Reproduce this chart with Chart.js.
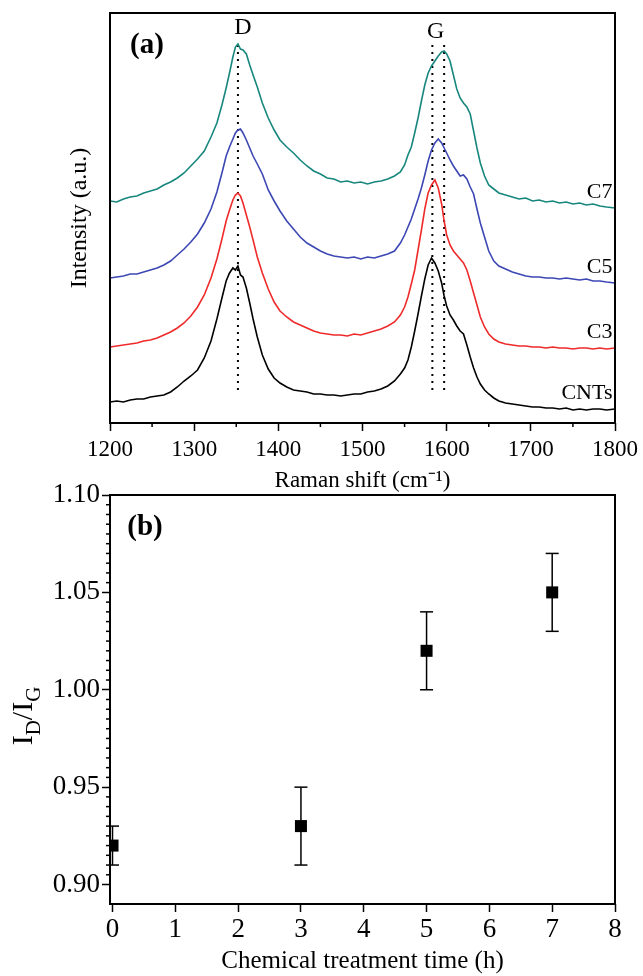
<!DOCTYPE html>
<html>
<head>
<meta charset="utf-8">
<title>Raman spectra and ID/IG</title>
<script src="https://cdn.jsdelivr.net/npm/chart.js@4.4.0/dist/chart.umd.min.js"></script>
<style>
  html, body { margin: 0; padding: 0; background: #fff; }
  #wrap { position: relative; width: 643px; height: 976px; }
  canvas { position: absolute; left: 0; }
  #ramanChart { top: 0; }
  #ratioChart { top: 470px; }
</style>
</head>
<body>
<div id="wrap">
  <canvas id="ramanChart" width="643" height="495"></canvas>
  <canvas id="ratioChart" width="643" height="506"></canvas>
</div>
<script>
// ---------- data: panel (a), Raman spectra (offset, a.u.) ----------
const ramanShift = [1200,1208,1216,1224,1232,1240,1248,1256,1264,1272,1280,1288,1296,1304,1312,1320,1327,1333,1338,1342,1346,1349,1352,1355,1358,1362,1366,1370,1375,1381,1388,1395,1402,1410,1418,1426,1434,1442,1450,1458,1466,1474,1482,1490,1498,1506,1514,1522,1530,1538,1545,1550,1554,1558,1562,1566,1570,1574,1578,1582,1586,1590,1594,1597,1600,1604,1608,1612,1616,1620,1624,1628,1632,1636,1640,1645,1650,1656,1662,1670,1678,1686,1694,1702,1710,1718,1726,1734,1742,1750,1758,1766,1774,1782,1790,1800];

const c7Int = [222,221,224,226,227,230,232,234,238,241,245,250,257,264,272,286,300,318,335,350,366,376,379,374,373,369,358,348,336,320,305,293,283,276,270,263,257,252,249,245,244,241,242,240,241,239,241,242,244,247,251,258,268,276,290,305,322,338,350,357,362,367,371,372,369,362,348,334,325,320,316,309,292,275,260,247,238,234,230,228,226,224,225,222,223,221,222,220,221,219,220,218,219,217,216,215];

const c5Int = [145,146,147,149,149,151,153,155,158,162,168,174,181,189,200,214,231,250,267,276,284,290,293,294,290,283,275,267,259,249,233,222,212,202,194,186,180,176,172,169,167,166,165,166,164,166,165,167,169,172,180,188,196,204,214,224,235,248,262,273,280,284,280,275,270,263,257,252,247,248,244,236,229,214,200,186,172,162,157,154,151,149,147,146,146,145,145,144,145,144,143,144,142,142,141,140];

const c3Int = [76,77,78,79,80,82,83,85,88,91,95,100,107,116,128,145,164,184,202,213,223,228,230,227,220,208,196,183,166,150,134,121,112,106,101,98,95,92,90,89,88,88,87,89,88,90,92,94,97,101,108,116,126,139,153,173,193,214,230,238,243,235,219,202,188,178,172,168,164,160,153,142,130,118,106,96,89,84,81,79,78,77,77,76,76,75,76,75,75,74,75,75,74,75,74,75];

const cntInt = [21,22,21,23,24,24,26,27,28,31,36,42,47,53,65,82,104,125,142,150,155,153,157,148,146,135,120,104,86,68,54,45,40,36,33,32,31,29,29,28,28,27,28,29,29,31,32,34,37,42,49,55,63,76,92,109,127,144,158,165,160,152,140,127,117,108,103,97,92,89,78,66,55,46,39,33,29,25,22,20,19,18,17,16,16,15,15,14,15,13,14,13,14,14,13,14];

const sampleNames = ['C7', 'C5', 'C3', 'CNTs'];
const dPeak = [1352];
const gPeaks = [1583, 1597];

// ---------- data: panel (b), ID/IG vs treatment time ----------
const treatTime = [0, 3, 5, 7];
const ratioIDIG = [0.92, 0.93, 1.02, 1.05];
const ratioErr = [0.01, 0.02, 0.02, 0.02];
const ratioTicks = [0.90, 0.95, 1.00, 1.05, 1.10];
const timeTicks = [0, 1, 2, 3, 4, 5, 6, 7, 8];

// ---------- styling ----------
const SERIF = "'Liberation Serif', 'Times New Roman', serif";
Chart.defaults.font.family = SERIF;
Chart.defaults.color = '#000';
const lineColors = { C7: '#17877e', C5: '#3c47b3', C3: '#ef2a2a', CNTs: '#000000' };
const seriesValues = [c7Int, c5Int, c3Int, cntInt];

function frame(ctx, a) {
    ctx.save();
    ctx.strokeStyle = '#000';
    ctx.lineWidth = 2;
    ctx.strokeRect(a.left, a.top, a.right - a.left, a.bottom - a.top);
    ctx.restore();
}

function tickMark(ctx, x1, y1, x2, y2) {
    ctx.beginPath();
    ctx.moveTo(x1, y1);
    ctx.lineTo(x2, y2);
    ctx.stroke();
}

// ---------- panel (a) ----------
const guideLine = (x) => ({
    data: [{ x, y: 33 }, { x, y: 378 }],
    borderColor: '#000', borderWidth: 2, borderDash: [2, 5],
    pointRadius: 0, showLine: true, fill: false
});

const ramanDatasets = sampleNames.map((name, k) => ({
    label: name,
    data: ramanShift.map((x, i) => ({ x, y: seriesValues[k][i] })),
    borderColor: lineColors[name],
    borderWidth: 1.6,
    pointRadius: 0,
    showLine: true,
    tension: 0,
    fill: false
}));
dPeak.concat(gPeaks).forEach(p => ramanDatasets.push(guideLine(p)));

const ramanDecor = {
    id: 'ramanDecor',
    afterDraw(chart) {
        const { ctx, chartArea: a, scales: { x, y } } = chart;
        ctx.save();
        ctx.strokeStyle = '#000';
        ctx.lineWidth = 1.5;
        for (let v = 1250; v < 1800; v += 100) {
            const px = x.getPixelForValue(v);
            tickMark(ctx, px, a.bottom, px, a.bottom + 4);
        }
        ctx.fillStyle = '#000';
        // sample names at the right end of each trace
        ctx.font = '22px ' + SERIF;
        ctx.textAlign = 'right';
        ctx.textBaseline = 'middle';
        sampleNames.forEach((name, k) => {
            const vals = seriesValues[k];
            ctx.fillText(name, x.getPixelForValue(1797), y.getPixelForValue(vals[vals.length - 1] + 16));
        });
        // band labels
        ctx.font = '24px ' + SERIF;
        ctx.textAlign = 'center';
        ctx.fillText('D', x.getPixelForValue(dPeak[0] + 6), y.getPixelForValue(395));
        ctx.fillText('G', x.getPixelForValue((gPeaks[0] + gPeaks[1]) / 2 - 3), y.getPixelForValue(391));
        ctx.font = 'bold 29px ' + SERIF;
        ctx.fillText('(a)', a.left + 37, a.top + 33);
        ctx.restore();
        frame(ctx, a);
    }
};

new Chart(document.getElementById('ramanChart'), {
    type: 'scatter',
    data: { datasets: ramanDatasets },
    options: {
        responsive: false,
        animation: false,
        layout: { padding: { left: 0, right: 28, top: 13, bottom: 0 } },
        plugins: { legend: { display: false }, tooltip: { enabled: false } },
        scales: {
            x: {
                type: 'linear', min: 1200, max: 1800,
                ticks: { stepSize: 100, font: { size: 23 }, padding: 5, maxRotation: 0, color: '#000', callback: v => String(v) },
                grid: { drawOnChartArea: false, tickLength: 8, tickColor: '#000', tickWidth: 1.5 },
                border: { display: false },
                title: { display: true, text: 'Raman shift (cm\u207B\u00B9)', font: { size: 23 }, color: '#000', padding: { top: 0, bottom: 0 } },
                afterFit: s => { s.height = 72; }
            },
            y: {
                min: 0, max: 410,
                ticks: { display: false },
                grid: { display: false },
                border: { display: false },
                title: { display: true, text: 'Intensity (a.u.)', font: { size: 24 }, color: '#000', padding: { top: 65, bottom: 0 } },
                afterFit: s => { s.width = 110; }
            }
        }
    },
    plugins: [ramanDecor]
});

// ---------- panel (b) ----------
const ratioDecor = {
    id: 'ratioDecor',
    beforeDatasetsDraw(chart) {
        const { ctx, chartArea: a, scales: { x, y } } = chart;
        ctx.save();
        ctx.beginPath();
        ctx.rect(a.left, a.top, a.right - a.left, a.bottom - a.top);
        ctx.clip();
        ctx.strokeStyle = '#000';
        ctx.lineWidth = 1.5;
        treatTime.forEach((t, i) => {
            const px = x.getPixelForValue(t);
            const top = y.getPixelForValue(ratioIDIG[i] + ratioErr[i]);
            const bot = y.getPixelForValue(ratioIDIG[i] - ratioErr[i]);
            tickMark(ctx, px, top, px, bot);
            tickMark(ctx, px - 6.5, top, px + 6.5, top);
            tickMark(ctx, px - 6.5, bot, px + 6.5, bot);
        });
        ctx.restore();
    },
    afterDraw(chart) {
        const { ctx, chartArea: a, scales: { x, y } } = chart;
        ctx.save();
        ctx.strokeStyle = '#000';
        ctx.lineWidth = 1.5;
        for (let k = 0; k <= 40; k++) {
            const v = 0.90 + k * 0.005;
            if (k % 10 === 0) continue;
            const py = y.getPixelForValue(v);
            tickMark(ctx, a.left, py, a.left - 4, py);
        }
        ctx.fillStyle = '#000';
        ctx.font = 'bold 29px ' + SERIF;
        ctx.textAlign = 'center';
        ctx.textBaseline = 'middle';
        ctx.fillText('(b)', a.left + 35, a.top + 33);

        // y title  I_D / I_G
        const parts = [['I', 30, 0], ['D', 21, 8], ['/', 30, 0], ['I', 30, 0], ['G', 21, 8]];
        ctx.translate(32, 246);
        ctx.rotate(-Math.PI / 2);
        ctx.textAlign = 'left';
        ctx.textBaseline = 'alphabetic';
        let total = 0;
        parts.forEach(p => { ctx.font = p[1] + 'px ' + SERIF; total += ctx.measureText(p[0]).width; });
        let cx = -total / 2;
        parts.forEach(p => {
            ctx.font = p[1] + 'px ' + SERIF;
            ctx.fillText(p[0], cx, p[2]);
            cx += ctx.measureText(p[0]).width;
        });
        ctx.restore();
        frame(ctx, a);
    }
};

new Chart(document.getElementById('ratioChart'), {
    type: 'scatter',
    data: {
        datasets: [{
            label: 'ID/IG',
            data: treatTime.map((t, i) => ({ x: t, y: ratioIDIG[i] })),
            pointStyle: 'rect',
            pointRadius: 8.5,
            backgroundColor: '#000',
            borderColor: '#000',
            borderWidth: 0,
            showLine: false
        }]
    },
    options: {
        responsive: false,
        animation: false,
        layout: { padding: { left: 0, right: 28, top: 25, bottom: 0 } },
        plugins: { legend: { display: false }, tooltip: { enabled: false } },
        scales: {
            x: {
                type: 'linear', min: -0.04, max: 8,
                afterBuildTicks: s => { s.ticks = timeTicks.map(v => ({ value: v })); },
                ticks: { font: { size: 27 }, padding: 2, maxRotation: 0, color: '#000' },
                grid: { drawOnChartArea: false, tickLength: 8, tickColor: '#000', tickWidth: 1.5 },
                border: { display: false },
                title: { display: true, text: 'Chemical treatment time (h)', font: { size: 25 }, color: '#000', padding: { top: 0, bottom: 0 } },
                afterFit: s => { s.height = 72; }
            },
            y: {
                min: 0.89, max: 1.10,
                afterBuildTicks: s => { s.ticks = ratioTicks.map(v => ({ value: v })); },
                ticks: { font: { size: 27 }, padding: 2, color: '#000', callback: v => Number(v).toFixed(2) },
                grid: { drawOnChartArea: false, tickLength: 8, tickColor: '#000', tickWidth: 1.5 },
                border: { display: false },
                afterFit: s => { s.width = 110; }
            }
        }
    },
    plugins: [ratioDecor]
});
</script>
</body>
</html>
